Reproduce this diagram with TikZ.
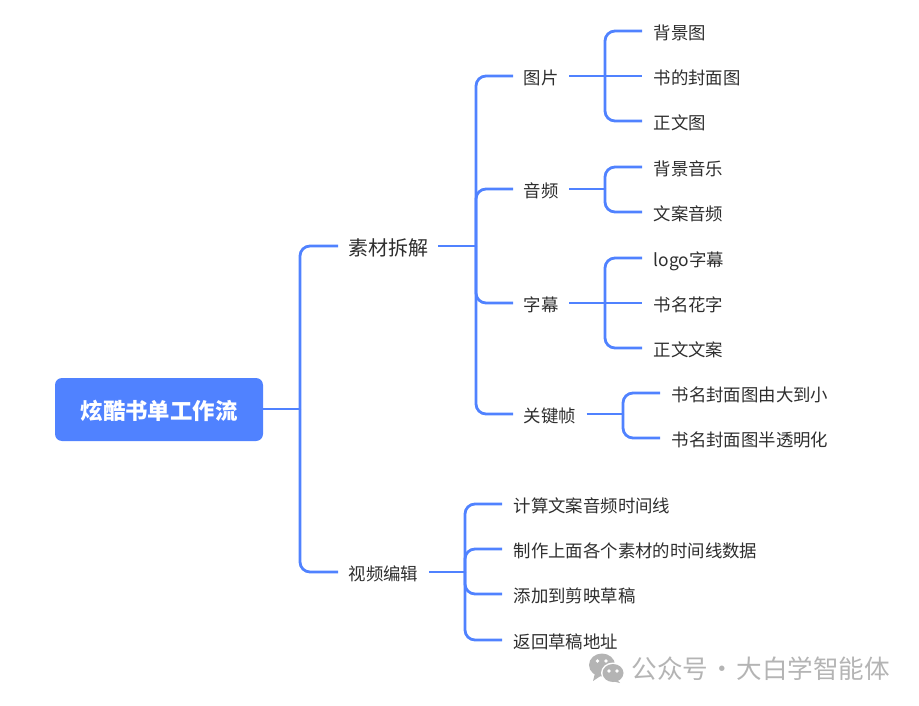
\documentclass[tikz,border=0pt]{standalone}
\usepackage{fontspec}
\setmainfont{Noto Sans CJK SC}
\tikzset{link/.style = {mblue, line width = 2.8, rounded corners = 10}}
\tikzset{rootbox/.style = {fill = mblue, rounded corners = 7, minimum width = 208, minimum height = 63, inner sep = 0, text = white, text height = 20, text depth = 0.8, font = \fontsize{22.4}{26}\selectfont\bfseries}}
\tikzset{topic/.style = {anchor = west, inner xsep = 10, inner ysep = 0, text = mtext, text height = 20, text depth = 1.6, font = \fontsize{20}{24}\selectfont}}
\tikzset{sub/.style = {anchor = west, inner xsep = 10.5, inner ysep = 0, text = mtext, text height = 18, text depth = 1.6, font = \fontsize{17.4}{20}\selectfont}}
\tikzset{leaf/.style = {anchor = west, inner xsep = 11.5, inner ysep = 0, text = mtext, text height = 18, text depth = 1.6, font = \fontsize{17.4}{20}\selectfont}}
\definecolor{mblue}{HTML}{5082FF}
\definecolor{mtext}{HTML}{2E2E2E}
\definecolor{mgray}{HTML}{B4B4B4}
\begin{document}
\begin{tikzpicture}[x = 1pt, y = -1pt]
      \useasboundingbox (0, 0) rectangle (919, 706);

      \node [rootbox] (root) at (159, 409.5) {炫酷书单工作流};
      \coordinate (rootj) at (300, 409);
      \draw [link] (root.east |- rootj) -- (rootj);

      \node [topic] (sucai) at (338, 246) {素材拆解};
      \node [sub] (shipin) at (338, 572) {视频编辑};
      \draw [link] (rootj) |- (sucai);
      \draw [link] (rootj) |- (shipin);

      % material branch
      \coordinate (sucaij) at (476, 246);
      \draw [link] (sucai) -- (sucaij);
      \foreach \name/\y/\txt in {tupian/76/图片, yinpin/189/音频, zimu/303/字幕, guanjian/414/关键帧} {
        \node [sub] (\name) at (513, \y) {\txt};
        \draw [link] (sucaij) |- (\name);
      }

      \coordinate (tupianj) at (605, 76);
      \coordinate (yinpinj) at (605, 189);
      \coordinate (zimuj) at (605, 303);
      \coordinate (guanjianj) at (623, 414);
      \foreach \name in {tupian, yinpin, zimu, guanjian} {
        \draw [link] (\name) -- (\name j);
      }

      \foreach \name/\x/\y/\txt in {
          beijingtu/642/31/背景图, fengmian/642/76/书的封面图, zhengwentu/642/121/正文图,
          beijingyin/642/167/背景音乐, wenanyin/642/212/文案音频,
          logo/642/258/logo字幕, huazi/642/303/书名花字, zhengwen/642/348/正文文案,
          daxiao/660/393/书名封面图由大到小, touming/660/438/书名封面图半透明化} {
        \node [leaf] (\name) at (\x, \y) {\txt};
      }
      \foreach \parent/\name in {
          tupian/beijingtu, tupian/zhengwentu, yinpin/beijingyin, yinpin/wenanyin,
          zimu/logo, zimu/zhengwen, guanjian/daxiao, guanjian/touming} {
        \draw [link] (\parent j) |- (\name);
      }
      \draw [link] (tupianj) -- (fengmian);
      \draw [link] (zimuj) -- (huazi);

      % video branch
      \coordinate (shipinj) at (465, 572);
      \draw [link] (shipin) -- (shipinj);
      \foreach \name/\y/\txt in {
          jisuan/504/计算文案音频时间线, zhizuo/549/制作上面各个素材的时间线数据,
          tianjia/594/添加到剪映草稿, fanhui/640/返回草稿地址} {
        \node [leaf] (\name) at (502, \y) {\txt};
        \draw [link] (shipinj) |- (\name);
      }

      % watermark
      \fill [mgray] (602, 665) ellipse [x radius = 13, y radius = 11.5];
      \fill [mgray] (595, 673) -- (593, 681) -- (602, 675) -- cycle;
      \fill [white] (613, 673) ellipse [x radius = 12, y radius = 10.5];
      \fill [mgray] (613, 673) ellipse [x radius = 10.5, y radius = 9];
      \fill [mgray] (617, 680) -- (620, 683) -- (612, 681) -- cycle;
      \foreach \x/\y in {597.5/661, 606/661, 609/671, 617/671} {
        \fill [white] (\x, \y) circle [radius = 1.9];
      }
      \node [anchor = west, inner sep = 0, text = mgray, font = \fontsize{25.6}{28}\selectfont] (mark) at (631.5, 669) {公众号\hspace{1.2pt}·\hspace{1.2pt}大白学智能体};
\end{tikzpicture}
\end{document}
